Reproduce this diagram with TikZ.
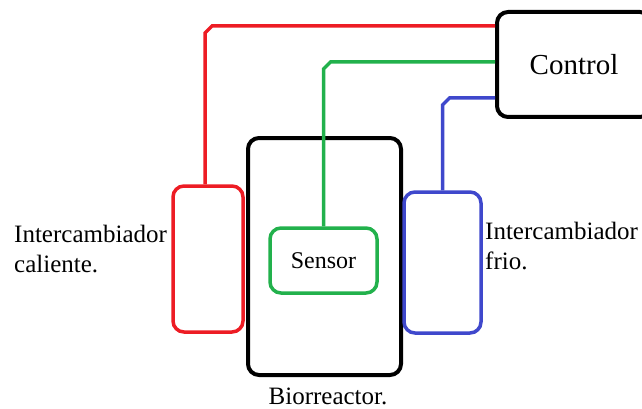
\documentclass[tikz,border=0pt]{standalone}
\usepackage{fontspec}
\setmainfont{Liberation Serif}
\usetikzlibrary{positioning,calc}
\definecolor{pred}{RGB}{237,28,36}
\definecolor{pgreen}{RGB}{34,177,76}
\definecolor{pblue}{RGB}{63,72,204}
\tikzset{
    x=1pt,
    y=-1pt,
    vessel/.style = {
        draw,
        shape=rectangle,
        rounded corners=11pt,
        line width=3.5pt,
        inner sep=0pt
    },
    label/.style = {
        align=left,
        inner sep=0pt,
        font=\fontsize{25}{30}\selectfont
    },
    wire/.style = {
        line width=3.5pt,
        line join=miter
    },
}

\begin{document}
\begin{tikzpicture}
            \useasboundingbox (0,0) rectangle (642,409);

            \node[vessel, line width=4pt, minimum width=154, minimum height=105,
            font=\fontsize{29}{34}\selectfont] (control) at (574,64.5) {Control};
            \node[vessel, line width=4pt, minimum width=153, minimum height=237]
            (bio) at (324.5,256.5) {};
            \node[vessel, color=pred, minimum width=70, minimum height=146]
            (hot) at (208,259) {};
            \node[vessel, color=pblue, minimum width=77, minimum height=141]
            (cold) at (442.5,262.5) {};
            \node[vessel, color=pgreen, minimum width=107, minimum height=65,
            text=black, font=\fontsize{24}{29}\selectfont] (sensor) at (323.5,260.5) {Sensor};

            \node[label, anchor=west] (hotlbl) at (14,249) {Intercambiador\\caliente.};
            \node[label, anchor=west] (coldlbl) at (485,246) {Intercambiador\\frio.};
            \node[label, anchor=north] (biolbl) at (328,388) {Biorreactor.};

            % corners of the wires
            \coordinate (rc) at (205,26);
            \coordinate (gc) at (323.5,62);
            \coordinate (bc) at (442.5,98);

            \path[draw, wire, color=pred] (hot.north -| rc) -- ($(rc)+(0,7)$) --
            ($(rc)+(7,0)$) -- (control.west |- rc);
            \path[draw, wire, color=pgreen] (sensor.north) -- ($(gc)+(0,7)$) --
            ($(gc)+(7,0)$) -- (control.west |- gc);
            \path[draw, wire, color=pblue] (cold.north) -- ($(bc)+(0,7)$) --
            ($(bc)+(7,0)$) -- (control.west |- bc);
        \end{tikzpicture}
\end{document}
